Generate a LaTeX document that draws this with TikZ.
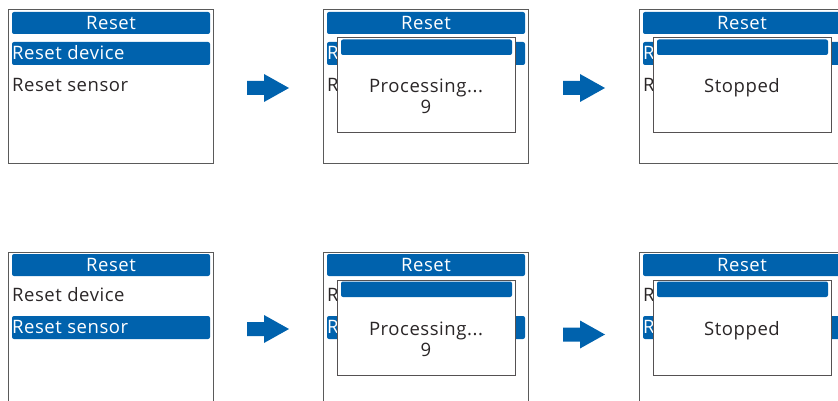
\documentclass[tikz,border=0pt]{standalone}
\usepackage{fontspec}
\setmainfont{Open Sans}[LetterSpace=3]
\definecolor{barblue}{HTML}{0062AD}
\definecolor{ink}{HTML}{2A2627}
\definecolor{framegray}{HTML}{5A5A5A}
\tikzset{
  frame/.style={draw=framegray, line width=1pt},
  bar/.style={fill=barblue, rounded corners=2pt},
  popbox/.style={draw=ink!80, line width=1pt, fill=white},
  txt/.style={font=\fontsize{18.5}{22}\selectfont, inner sep=0pt},
  itemtxt/.style={txt, text=ink, anchor=base west},
  seltxt/.style={txt, text=white, anchor=base west},
  titletxt/.style={txt, text=white, anchor=base},
  poptxt/.style={txt, text=ink, anchor=base},
  flow/.style={fill=barblue}
}
% #1,#2 origin; #3 selected row; #4 name; #5 first item text; #6 second item text
\newcommand\menuscreen[6]{%
  \begin{scope}[shift={(#1,#2)}]
    \draw[frame] (0,0) rectangle (205,154);
    \fill[bar] (4,2) rectangle (202,24);
    \node[titletxt] (#4-title) at (103,19.5) {Reset};
    \ifnum#3=1
      \fill[bar] (4,32) rectangle (202,55);
      \node[seltxt] (#4-dev) at (4,49.5) {#5};
      \node[itemtxt] (#4-sen) at (4,82) {#6};
    \else
      \fill[bar] (4,64) rectangle (202,87);
      \node[itemtxt] (#4-dev) at (4,49.5) {#5};
      \node[seltxt] (#4-sen) at (4,81.5) {#6};
    \fi
  \end{scope}}
\newcommand\popupbox[4]{%
  \begin{scope}[shift={(#1,#2)}]
    \draw[popbox] (14,28) rectangle (192,123);
    \fill[bar] (18,29.5) rectangle (189,45);
    \ifx&#4&
      \node[poptxt] (#3-a) at (103,83) {Stopped};
    \else
      \node[poptxt] (#3-a) at (103,83) {Processing...};
      \node[poptxt] (#3-b) at (103,104) {#4};
    \fi
  \end{scope}}
\newcommand\flowarrow[3]{%
  \fill[flow] (#1,#2-7) -- (#1+17,#2-7) -- (#1+17,#2-14) -- (#1+42,#2)
    -- (#1+17,#2+14) -- (#1+17,#2+7) -- (#1,#2+7) -- cycle;
  \coordinate (#3) at (#1+42,#2);}
\begin{document}
\begin{tikzpicture}[x=1pt,y=-1pt]
  \useasboundingbox (0,0) rectangle (838,401);
  \clip (0,0) rectangle (838,401);
  % top row
  \menuscreen{8}{10}{1}{s1}{Reset device}{Reset sensor}
  \menuscreen{323}{10}{1}{s2}{R}{R}
  \popupbox{323}{10}{p2}{9}
  \menuscreen{639}{10}{1}{s3}{R}{R}
  \popupbox{639}{10}{p3}{}
  \flowarrow{247}{88}{a1}
  \flowarrow{563}{88}{a2}
  % bottom row
  \menuscreen{8}{252}{2}{t1}{Reset device}{Reset sensor}
  \menuscreen{323}{252}{2}{t2}{R}{R}
  \popupbox{323}{252}{q2}{9}
  \menuscreen{639}{252}{2}{t3}{R}{R}
  \popupbox{639}{252}{q3}{}
  \flowarrow{247}{329}{b1}
  \flowarrow{563}{334.5}{b2}
\end{tikzpicture}
\end{document}
